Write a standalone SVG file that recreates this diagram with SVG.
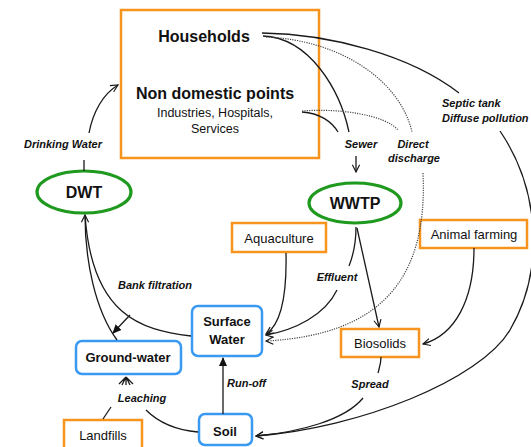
<svg xmlns="http://www.w3.org/2000/svg" width="531" height="447" viewBox="0 0 531 447">
<style>
.bg{fill:#fff}
.org{fill:#fff;stroke:#f7941d;stroke-width:2.5}
.blu{fill:#fff;stroke:#3a9af2;stroke-width:2.5}
.grn{fill:#fff;stroke:#1f9a1f;stroke-width:3.2}
.t{font-family:"Liberation Sans",Arial,sans-serif;fill:#111;text-anchor:middle}
.b{font-weight:bold}
.lbl{font-family:"Liberation Sans",Arial,sans-serif;font-weight:bold;font-style:italic;font-size:11px;fill:#111;text-anchor:middle}
.st{text-anchor:start}
.c{fill:none;stroke:#1a1a1a;stroke-width:1.3}
.d{fill:none;stroke:#444;stroke-width:1.2;stroke-dasharray:1.2 1.2}
</style>
<defs>
<marker id="open" viewBox="0 0 10 10" refX="9" refY="5" markerWidth="9" markerHeight="9" markerUnits="userSpaceOnUse" orient="auto">
<path d="M1,1 L9,5 L1,9" fill="none" stroke="#1a1a1a" stroke-width="1.3"/>
</marker>
<marker id="fill" viewBox="0 0 10 10" refX="9" refY="5" markerWidth="9" markerHeight="9" markerUnits="userSpaceOnUse" orient="auto">
<path d="M0,0.5 L10,5 L0,9.5 z" fill="#111"/>
</marker>
</defs>
<rect class="bg" x="0" y="0" width="531" height="447"/>

<g id="sources">
<rect class="org" x="121" y="10" width="198" height="148"/>
<text class="t b" x="204" y="42" font-size="16">Households</text>
<text class="t b" x="215" y="99" font-size="16">Non domestic points</text>
<text class="t" x="215" y="117" font-size="12.5">Industries, Hospitals,</text>
<text class="t" x="215" y="133" font-size="12.5">Services</text>
</g>

<g id="dwt">
<ellipse class="grn" cx="84" cy="192" rx="47" ry="21"/>
<text class="t b" x="84" y="198" font-size="16">DWT</text>
</g>

<g id="wwtp">
<ellipse class="grn" cx="355" cy="203" rx="46" ry="20"/>
<text class="t b" x="355" y="209" font-size="16">WWTP</text>
</g>

<g id="aquaculture">
<rect class="org" x="232" y="223" width="94" height="29"/>
<text class="t" x="279" y="243" font-size="13">Aquaculture</text>
</g>

<g id="animal-farming">
<rect class="org" x="420" y="220" width="107" height="28"/>
<text class="t" x="474" y="239" font-size="13">Animal farming</text>
</g>

<g id="biosolids">
<rect class="org" x="341" y="329" width="78" height="28"/>
<text class="t" x="380" y="348" font-size="13">Biosolids</text>
</g>

<g id="landfills">
<rect class="org" x="64" y="420" width="78" height="30"/>
<text class="t" x="103" y="440" font-size="13">Landfills</text>
</g>

<g id="surface-water">
<rect class="blu" x="192" y="306" width="70" height="50" rx="6"/>
<text class="t b" x="227" y="326" font-size="13">Surface</text>
<text class="t b" x="227" y="344" font-size="13">Water</text>
</g>

<g id="ground-water">
<rect class="blu" x="76" y="341" width="105" height="33" rx="6"/>
<text class="t b" x="128" y="362" font-size="13">Ground-water</text>
</g>

<g id="soil">
<rect class="blu" x="199" y="414" width="53" height="31" rx="6"/>
<text class="t b" x="225" y="436" font-size="13">Soil</text>
</g>

<g id="connectors">
<path class="c" d="M84,171 L84,160"/>
<path class="c" d="M89,133 C93,112 103,94 118,85" marker-end="url(#open)"/>
<path class="c" d="M262,33 C330,34 410,55 459,93"/>
<path class="c" d="M263,36 C310,38 340,90 349,132"/>
<path class="d" d="M266,37 C340,40 400,80 412,132"/>
<path class="c" d="M302,112 C320,113 332,122 338,132"/>
<path class="d" d="M302,111 C340,108 385,115 398,130"/>
<path class="c" d="M356,156 L356,172" marker-end="url(#open)"/>
<path class="c" d="M500,131 C540,190 545,270 510,330 C480,380 360,428 256,436" marker-end="url(#open)"/>
<path class="d" d="M423,173 C428,280 380,335 266,341" marker-end="url(#open)"/>
<path class="c" d="M356,227 C356,245 353,256 349,266"/>
<path class="c" d="M337,290 C325,315 295,330 266,335" marker-end="url(#open)"/>
<path class="c" d="M286,253 C287,300 280,325 266,334" marker-end="url(#open)"/>
<path class="c" d="M357,228 L379,327" marker-end="url(#open)"/>
<path class="c" d="M474,248 C474,300 455,335 423,344" marker-end="url(#open)"/>
<path class="c" d="M381,357 C381,364 379,369 378,373"/>
<path class="c" d="M363,398 C345,420 300,432 256,436" marker-end="url(#open)"/>
<path class="c" d="M223,414 L223,358" marker-end="url(#fill)"/>
<path class="c" d="M191,336 C140,330 92,315 85,215"/>
<path class="c" d="M117,340 C95,310 85,260 85,215" marker-end="url(#open)"/>
<path class="c" d="M130,315 L113,333" marker-end="url(#fill)"/>
<path class="c" d="M198,432 C175,430 158,422 146,410"/>
<path class="c" d="M103,419 L111,407"/>
<path class="c" d="M126,377 L119,384 M126,377 L122,385 M126,377 L126,385 M126,377 L130,385 M126,377 L133,384"/>
</g>

<g id="labels">
<text class="lbl" x="63" y="148">Drinking Water</text>
<text class="lbl" x="361" y="148">Sewer</text>
<text class="lbl" x="413" y="148">Direct</text>
<text class="lbl" x="414" y="162">discharge</text>
<text class="lbl st" x="442" y="107">Septic tank</text>
<text class="lbl st" x="442" y="122">Diffuse pollution</text>
<text class="lbl" x="155" y="289">Bank filtration</text>
<text class="lbl" x="337" y="281">Effluent</text>
<text class="lbl st" x="227" y="387">Run-off</text>
<text class="lbl" x="142" y="402">Leaching</text>
<text class="lbl" x="370" y="388">Spread</text>
</g>
</svg>
